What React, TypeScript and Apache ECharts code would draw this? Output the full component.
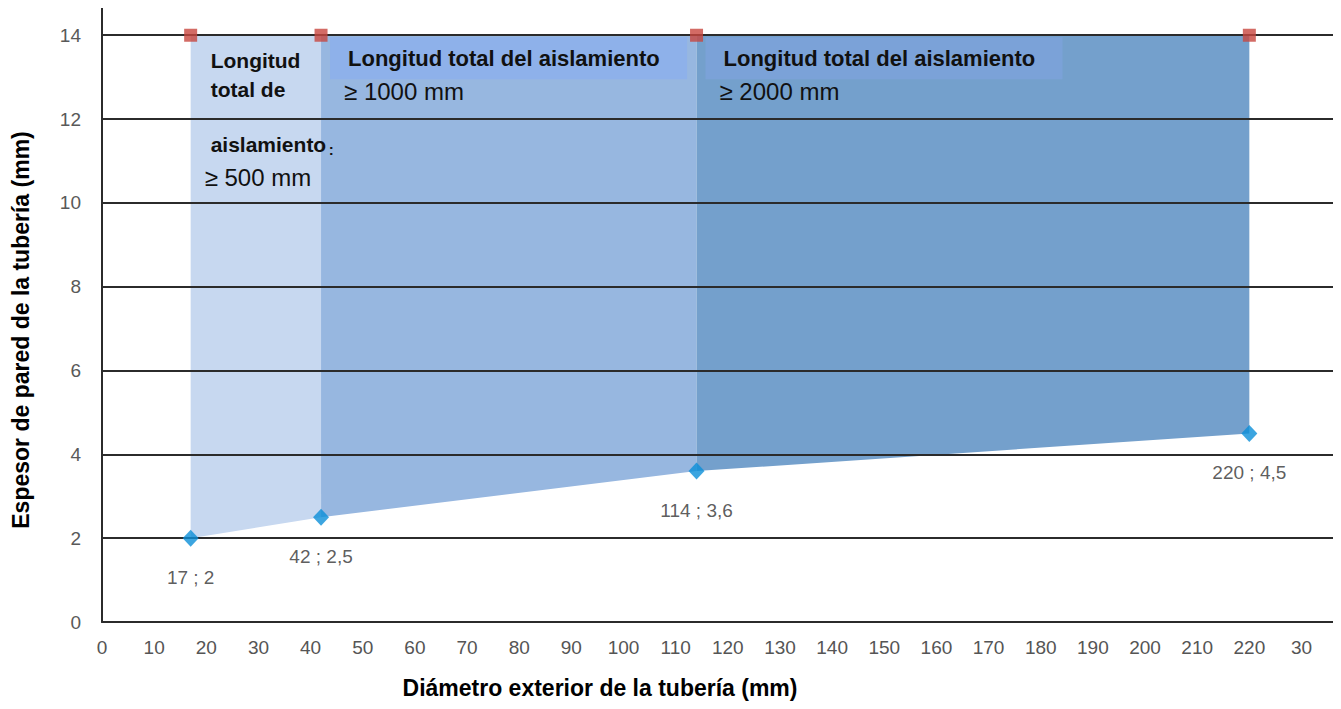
import React, { useEffect, useRef } from "react";
import * as echarts from "echarts";

const diameters = [17, 42, 114, 220];
const thickness = [2, 2.5, 3.6, 4.5];
const topValue = 14;
const xTicksMax = 230;
const regionTitles = [
  ["Longitud", "total de", "aislamiento"],
  ["Longitud total del aislamiento"],
  ["Longitud total del aislamiento"],
];
const regionValues = ["≥ 500 mm", "≥ 1000 mm", "≥ 2000 mm"];

const regionColors = ["#c7d8f0", "#97b7e0", "#74a0cc"];
const boxColors = ["", "#8eb1ea", "#7ba2d8"];
const FONT = "'Liberation Sans', Arial, sans-serif";

export default function App() {
  const ref = useRef<HTMLDivElement>(null);
  useEffect(() => {
    if (!ref.current) return;
    const chart = echarts.init(ref.current, undefined, { renderer: "svg" });

    const regionData = [0, 1, 2].map((i) => [
      diameters[i],
      thickness[i],
      diameters[i + 1],
      thickness[i + 1],
      i,
    ]);

    const renderItem = (params: any, api: any) => {
      const x0 = api.value(0);
      const y0 = api.value(1);
      const x1 = api.value(2);
      const y1 = api.value(3);
      const i = api.value(4);
      const p0 = api.coord([x0, topValue]);
      const p1 = api.coord([x1, topValue]);
      const p2 = api.coord([x1, y1]);
      const p3 = api.coord([x0, y0]);
      const children: any[] = [
        {
          type: "polygon",
          z2: 0,
          shape: { points: [p0, p1, p2, p3] },
          style: { fill: regionColors[i] },
        },
      ];
      const bold = (text: string, dx: number, dy: number, size = 21) => ({
        type: "text",
        z2: 20,
        x: p0[0] + dx,
        y: p0[1] + dy,
        style: {
          text,
          fontFamily: FONT,
          fontWeight: "bold",
          fontSize: size,
          fill: "#111",
          align: "left",
          verticalAlign: "middle",
        },
      });
      const normal = (text: string, dx: number, dy: number) => ({
        type: "text",
        z2: 20,
        x: p0[0] + dx,
        y: p0[1] + dy,
        style: {
          text,
          fontFamily: FONT,
          fontSize: 24,
          fill: "#111",
          align: "left",
          verticalAlign: "middle",
        },
      });
      if (i === 0) {
        const t = regionTitles[0];
        children.push(bold(t[0], 20, 25));
        children.push(bold(t[1], 20, 54));
        children.push(bold(t[2], 20, 109));
        children.push(bold(":", 138, 114, 15));
        children.push(normal(regionValues[0], 14, 142));
      } else {
        children.push({
          type: "rect",
          z2: 10,
          shape: { x: p0[0] + 9, y: p0[1] + 2, width: 357, height: 42 },
          style: { fill: boxColors[i] },
        });
        children.push(bold(regionTitles[i][0], 27, 23, 22));
        children.push(normal(regionValues[i], 23, 56));
      }
      return { type: "group", children };
    };

    const fmt = (v: number) => String(v).replace(".", ",");

    chart.setOption({
      animation: false,
      grid: { left: 102, right: 3, top: 8, bottom: 87, containLabel: false },
      xAxis: {
        type: "value",
        min: 0,
        max: 237,
        interval: 10,
        z: 3,
        name: "Diámetro exterior de la tubería (mm)",
        nameLocation: "middle",
        nameGap: 54,
        nameTextStyle: {
          fontFamily: FONT,
          fontWeight: "bold",
          fontSize: 23,
          color: "#000",
          padding: [0, 240, 0, 0],
        },
        axisLine: { show: true, lineStyle: { color: "#2b2b2b", width: 2 } },
        axisTick: { show: false },
        splitLine: { show: false },
        axisLabel: {
          margin: 16,
          fontFamily: FONT,
          fontSize: 19,
          color: "#555",
          formatter: (v: number) =>
            v % 10 !== 0 || v > xTicksMax ? "" : v === 230 ? "30" : String(v),
        },
      },
      yAxis: {
        type: "value",
        min: 0,
        max: 14.65,
        interval: 2,
        z: 3,
        name: "Espesor de pared de la tubería (mm)",
        nameLocation: "middle",
        nameGap: 70,
        nameRotate: 90,
        nameTextStyle: {
          fontFamily: FONT,
          fontWeight: "bold",
          fontSize: 23,
          color: "#000",
          padding: [0, 30, 0, 0],
        },
        axisLine: { show: true, lineStyle: { color: "#2b2b2b", width: 2 } },
        axisTick: { show: false },
        splitLine: {
          show: true,
          showMinLine: false,
          showMaxLine: false,
          lineStyle: { color: "#2b2b2b", width: 2 },
        },
        axisLabel: {
          margin: 21,
          fontFamily: FONT,
          fontSize: 19,
          color: "#595959",
          formatter: (v: number) => (v % 2 === 0 ? String(v) : ""),
        },
      },
      series: [
        {
          type: "custom",
          z: 1,
          renderItem,
          data: regionData,
          encode: { x: [0, 2], y: [1, 3] },
          silent: true,
        },
        {
          type: "scatter",
          z: 5,
          symbol: "rect",
          symbolSize: 13,
          itemStyle: { color: "#c8463e" },
          data: diameters.map((d) => [d, topValue]),
        },
        {
          type: "scatter",
          z: 5,
          symbol: "diamond",
          symbolSize: [16, 17],
          itemStyle: { color: "#0b8ed8" },
          data: diameters.map((d, i) => [d, thickness[i]]),
          label: {
            show: true,
            position: "bottom",
            distance: 21,
            fontFamily: FONT,
            fontSize: 19,
            color: "#333",
            formatter: (p: any) => `${p.value[0]} ; ${fmt(p.value[1])}`,
          },
        },
      ],
    });
    return () => chart.dispose();
  }, []);
  return <div ref={ref} style={{ width: 1341, height: 709, margin: -8 }} />;
}
